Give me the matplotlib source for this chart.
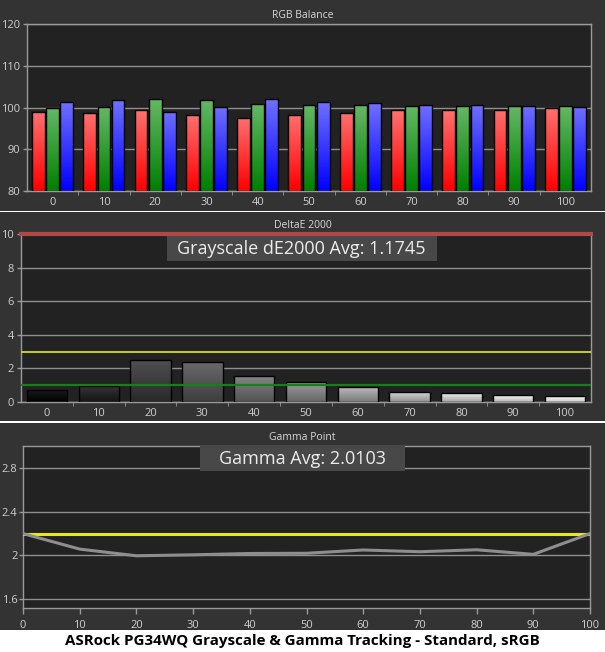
import numpy as np
import matplotlib
matplotlib.use("Agg")
import matplotlib.pyplot as plt
from matplotlib.colors import LinearSegmentedColormap
from matplotlib.patches import Rectangle

# data
levels = [0, 10, 20, 30, 40, 50, 60, 70, 80, 90, 100]
red = [99.0, 98.6, 99.3, 98.3, 97.6, 98.3, 98.8, 99.3, 99.3, 99.5, 99.8]
green = [100.0, 100.2, 102.1, 101.9, 100.9, 100.7, 100.6, 100.4, 100.4, 100.4, 100.4]
blue = [101.4, 101.7, 99.0, 100.2, 102.0, 101.4, 101.0, 100.6, 100.6, 100.4, 100.2]
delta_e = [0.70, 0.93, 2.50, 2.38, 1.53, 1.21, 0.87, 0.57, 0.51, 0.44, 0.38]
gamma = [2.20, 2.058, 1.997, 2.006, 2.018, 2.02, 2.05, 2.034, 2.052, 2.01, 2.20]
gamma_target = 2.2
de_avg = "Grayscale dE2000 Avg: 1.1745"
gamma_avg = "Gamma Avg: 2.0103"
title = "ASRock PG34WQ Grayscale & Gamma Tracking - Standard, sRGB"

W, H = 605, 652
OUTER = "#333333"
INNER = "#222222"
GRID = "#8f8f8f"
LABEL = "#cfcfcf"
FONT = ["Open Sans", "DejaVu Sans"]

plt.rcParams["font.family"] = FONT

fig = plt.figure(figsize=(W / 100, H / 100), dpi=100, facecolor="white")


def box(x0, y0, x1, y1):
    # pixel box (top-left origin) -> figure fraction rect
    return [x0 / W, 1 - y1 / H, (x1 - x0) / W, (y1 - y0) / H]


# dark panels, white gaps between them
for y0, y1 in [(0, 210.5), (211.5, 421), (422.5, 630)]:
    fig.patches.append(Rectangle((0, 1 - y1 / H), 1, (y1 - y0) / H,
                                 transform=fig.transFigure, fc=OUTER, ec="none", zorder=-5))


def style(ax):
    ax.set_facecolor(INNER)
    for s in ax.spines.values():
        s.set_color("#9a9a9a")
        s.set_linewidth(1)
    ax.tick_params(colors="#9a9a9a", labelcolor=LABEL, labelsize=8, length=3, width=1)
    ax.set_axisbelow(True)


def grad_bars(ax, bars, tops, bottoms):
    # fill each bar with a vertical gradient, clipped to the bar itself
    for b, t, bo in zip(bars, tops, bottoms):
        cmap = LinearSegmentedColormap.from_list("g", [bo, t])
        grad = np.linspace(0, 1, 64).reshape(-1, 1)
        x, y, w, h = b.get_x(), b.get_y(), b.get_width(), b.get_height()
        im = ax.imshow(grad, extent=(x, x + w, y, y + h), origin="lower", cmap=cmap,
                       aspect="auto", interpolation="bilinear", zorder=2)
        im.set_clip_path(b)


def category_axis(ax):
    n = len(levels)
    ax.set_xlim(-0.5, n - 0.5)
    ax.set_xticks(range(n))
    ax.set_xticklabels([str(v) for v in levels])
    ax.set_xticks(np.arange(0.5, n - 1, 1), minor=True)
    ax.tick_params(axis="x", which="major", length=0, pad=4)
    ax.tick_params(axis="x", which="minor", length=3, color="#9a9a9a")


# ---- RGB balance ----
ax1 = fig.add_axes(box(27, 24, 591, 191))
style(ax1)
x = np.arange(len(levels))
bw, off = 0.25, 0.275
ax1.yaxis.grid(True, color=GRID, lw=1)
rgb = [(red, "#ff7070", "#ff0000", -off),
       (green, "#66b866", "#008000", 0),
       (blue, "#7070ff", "#0000ff", off)]
for vals, top, bot, dx in rgb:
    bars = ax1.bar(x + dx, np.array(vals) - 80, bw, bottom=80, facecolor="none",
                   edgecolor="black", lw=1, zorder=3)
    grad_bars(ax1, bars, [top] * len(vals), [bot] * len(vals))
category_axis(ax1)
ax1.set_ylim(80, 120)
ax1.set_yticks([80, 90, 100, 110, 120])
ax1.tick_params(axis="y", pad=2)
fig.text(0.5, 1 - 15 / H, "RGB Balance", ha="center", va="center", color="#d8d8d8", fontsize=7.5)

# ---- DeltaE 2000 ----
ax2 = fig.add_axes(box(21, 234, 591, 402))
style(ax2)
ax2.yaxis.grid(True, color=GRID, lw=1)
bars = ax2.bar(x, delta_e, 0.78, facecolor="none", edgecolor="black", lw=1, zorder=3)
base = np.array(levels) / 100
tops = [str(min(1.0, g * 1.05 + 0.1)) for g in base]
bots = [str(g * 0.8) for g in base]
grad_bars(ax2, bars, tops, bots)
ax2.axhline(10, color="#b04848", lw=3, zorder=5, clip_on=False)
ax2.axhline(3, color="#d8d820", lw=1.3, zorder=5)
ax2.axhline(1, color="#1e7a1e", lw=1.6, zorder=5)
category_axis(ax2)
ax2.set_ylim(0, 10)
ax2.set_yticks(range(0, 11, 2))
ax2.tick_params(axis="y", pad=2)
fig.text(0.5, 1 - 226 / H, "DeltaE 2000", ha="center", va="center", color="#d8d8d8", fontsize=7.5)
fig.patches.append(Rectangle(box(166.7, 236, 436.7, 260.7)[:2], 270 / W, 24.7 / H,
                             transform=fig.transFigure, fc="#484848", ec="none", zorder=10))
fig.text(301.7 / W, 1 - 248.5 / H, de_avg, ha="center", va="center", color="#ececec",
         fontsize=13, zorder=11)

# ---- Gamma point ----
ax3 = fig.add_axes(box(23, 446, 590, 608))
style(ax3)
ax3.yaxis.grid(True, color=GRID, lw=1)
ax3.axhline(gamma_target, color="#e8e81c", lw=2.2, zorder=3)
ax3.plot(levels, gamma, color="#8e8e8e", lw=2.2, zorder=4)
ax3.set_xlim(0, 100)
ax3.set_ylim(1.52, 3.0)
ax3.set_xticks(levels)
ax3.set_yticks([1.6, 2.0, 2.4, 2.8])
ax3.set_yticklabels(["1.6", "2", "2.4", "2.8"])
ax3.tick_params(axis="x", length=4, pad=5)
ax3.tick_params(axis="y", pad=1)
fig.text(0.5, 1 - 437.7 / H, "Gamma Point", ha="center", va="center", color="#d8d8d8", fontsize=7.5)
fig.patches.append(Rectangle(box(200, 446, 405, 470.7)[:2], 205 / W, 24.7 / H,
                             transform=fig.transFigure, fc="#484848", ec="none", zorder=10))
fig.text(302.5 / W, 1 - 458.5 / H, gamma_avg, ha="center", va="center", color="#ececec",
         fontsize=13, zorder=11)

fig.text(302 / W, 1 - 641.5 / H, title, ha="center", va="center", color="black",
         fontsize=10.9, fontweight="bold")

fig.savefig("out.png", dpi=100, facecolor="white")
